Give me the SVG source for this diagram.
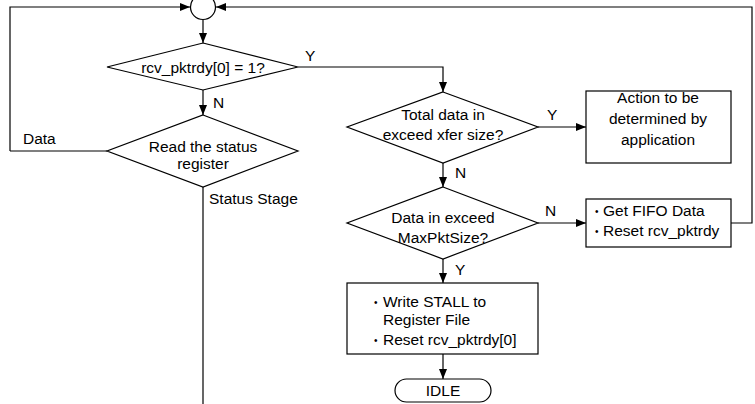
<svg xmlns="http://www.w3.org/2000/svg" width="755" height="404" viewBox="0 0 755 404">
<defs>
<marker id="ah" viewBox="0 0 10 8" refX="10" refY="4" markerWidth="10" markerHeight="8" markerUnits="userSpaceOnUse" orient="auto">
<path d="M0,0 L10,4 L0,8 Z" fill="#000"/>
</marker>
<style>
.s{fill:#fff;stroke:#000;stroke-width:1.2}
.c{fill:none;stroke:#000;stroke-width:1.2}
.t{font-family:"Liberation Sans",Arial,sans-serif;font-size:15.5px;fill:#000}
.b{font-family:"Liberation Sans",Arial,sans-serif;font-size:10px;fill:#000}
.m{text-anchor:middle}
</style>
</defs>
<g id="connectors">
<path class="c" d="M10,151 L10,7 L190,7" marker-end="url(#ah)"/>
<path class="c" d="M731,223 L752,223 L752,7 L216,7" marker-end="url(#ah)"/>
<path class="c" d="M203,20 L203,43" marker-end="url(#ah)"/>
<path class="c" d="M298,67 L443,67 L443,92" marker-end="url(#ah)"/>
<path class="c" d="M203,90 L203,115" marker-end="url(#ah)"/>
<path class="c" d="M107,151 L10,151"/>
<path class="c" d="M203,187 L203,404"/>
<path class="c" d="M538,127 L586,127" marker-end="url(#ah)"/>
<path class="c" d="M443,163 L443,187" marker-end="url(#ah)"/>
<path class="c" d="M538,223 L586,223" marker-end="url(#ah)"/>
<path class="c" d="M443,259 L443,283" marker-end="url(#ah)"/>
<path class="c" d="M443,354 L443,379" marker-end="url(#ah)"/>
<text class="t" x="305" y="61">Y</text>
<text class="t" x="213" y="108">N</text>
<text class="t" x="23" y="143.5">Data</text>
<text class="t" x="209" y="204">Status Stage</text>
<text class="t" x="547" y="120">Y</text>
<text class="t" x="455" y="178">N</text>
<text class="t" x="545" y="216">N</text>
<text class="t" x="455" y="275">Y</text>
</g>
<g id="junction">
<circle class="s" cx="203" cy="7" r="12.5"/>
</g>
<g id="d1">
<polygon class="s" points="203,43 298,67 203,90 107,67"/>
<text class="t m" x="203" y="72.5">rcv_pktrdy[0] = 1?</text>
</g>
<g id="d_status">
<polygon class="s" points="203,115 298,151 203,187 107,151"/>
<text class="t m" x="203" y="151.5">Read the status</text>
<text class="t m" x="203" y="169">register</text>
</g>
<g id="d_total">
<polygon class="s" points="443,92 538,127 443,163 347,127"/>
<text class="t m" x="443" y="120">Total data in</text>
<text class="t m" x="443" y="140">exceed xfer size?</text>
</g>
<g id="b_action">
<rect class="s" x="586" y="91" width="145" height="72"/>
<text class="t m" x="658" y="103">Action to be</text>
<text class="t m" x="658" y="124">determined by</text>
<text class="t m" x="658" y="145">application</text>
</g>
<g id="d_max">
<polygon class="s" points="443,187 538,223 443,259 347,223"/>
<text class="t m" x="443" y="222.5">Data in exceed</text>
<text class="t m" x="443" y="242.5">MaxPktSize?</text>
</g>
<g id="b_fifo">
<rect class="s" x="586" y="199" width="145" height="48"/>
<text class="b" x="595" y="215">•</text>
<text class="t" x="603" y="216">Get FIFO Data</text>
<text class="b" x="595" y="235">•</text>
<text class="t" x="603" y="236">Reset rcv_pktrdy</text>
</g>
<g id="b_stall">
<rect class="s" x="347" y="283" width="191" height="71"/>
<text class="b" x="374" y="306">•</text>
<text class="t" x="383" y="307">Write STALL to</text>
<text class="t" x="383" y="325">Register File</text>
<text class="b" x="374" y="344">•</text>
<text class="t" x="383" y="345">Reset rcv_pktrdy[0]</text>
</g>
<g id="idle">
<rect class="s" x="395" y="379" width="96" height="23" rx="11.5" ry="11.5"/>
<text class="t m" x="443" y="396">IDLE</text>
</g>
</svg>
